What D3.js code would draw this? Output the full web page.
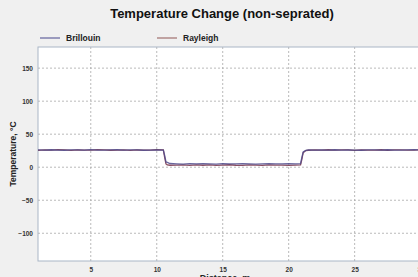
<!DOCTYPE html>
<html>
<head>
<meta charset="utf-8">
<script src="https://cdn.jsdelivr.net/npm/d3@7"></script>
<style>
  body { margin: 0; background: #f0f0f0; overflow: hidden; }
  svg { display: block; font-family: "Liberation Sans", Arial, sans-serif; }
</style>
</head>
<body>
<div id="chart"></div>
<script>
// distance along fibre, m
const distance = [
  1, 1.5, 2, 2.5, 3, 3.5, 4, 4.5, 5, 5.5, 6, 6.5, 7, 7.5, 8, 8.5, 9, 9.5, 10, 10.5,
  10.6, 10.7, 10.8, 11,
  11.5, 12, 12.5, 13, 13.5, 14, 14.5, 15, 15.5, 16, 16.5, 17, 17.5, 18, 18.5, 19, 19.5, 20, 20.5,
  20.9, 21, 21.1, 21.3,
  21.5, 22, 22.5, 23, 23.5, 24, 24.5, 25, 25.5, 26, 26.5, 27, 27.5, 28, 28.5, 29, 29.5, 30, 30.5, 31, 31.5, 32
];
const brillouin = [
  26.2, 25.8, 26.4, 26.0, 25.7, 26.3, 26.1, 25.9, 26.5, 26.0, 25.8, 26.2, 26.4, 25.9, 26.1, 26.3, 25.7, 26.0, 26.2, 25.9,
  18, 8, 7.2, 5.6,
  5.2, 4.8, 5.5, 4.9, 5.3, 5.0, 4.7, 5.4, 5.1, 4.9, 5.3, 5.0, 4.8, 5.2, 5.5, 4.9, 5.1, 5.3, 5.0,
  5.5, 15, 23, 25.5,
  26.1, 25.8, 26.3, 26.0, 26.4, 25.9, 26.2, 26.0, 25.7, 26.3, 26.1, 25.9, 26.4, 26.0, 25.8, 26.2, 26.5, 25.9, 26.1, 26.3, 25.8, 26.0
];
const rayleigh = [
  25.6, 26.3, 25.9, 26.5, 26.1, 25.5, 26.2, 26.0, 25.8, 26.4, 26.1, 25.7, 26.0, 26.3, 25.6, 26.2, 26.0, 25.8, 26.4, 26.1,
  15, 5, 3.5, 3.0,
  3.1, 3.6, 2.8, 3.4, 3.0, 3.5, 2.9, 3.3, 3.7, 3.0, 2.8, 3.4, 3.2, 2.9, 3.5, 3.1, 3.3, 2.8, 3.2,
  3.5, 12, 22, 25.2,
  25.7, 26.2, 25.9, 26.4, 25.8, 26.1, 26.3, 25.6, 26.2, 25.9, 26.0, 26.4, 25.7, 26.1, 26.3, 25.8, 26.0, 26.2, 25.9, 26.4, 25.7, 26.1
];
const xTicks = [5, 10, 15, 20, 25, 30];
const yTicks = [150, 100, 50, 0, -50, -100];
const seriesNames = ["Brillouin", "Rayleigh"];

const W = 418, H = 277;
const margin = { top: 47, right: -29, bottom: 16, left: 38 };
const innerW = W - margin.left - margin.right;
const innerH = H - margin.top - margin.bottom;

const svg = d3.select("#chart").append("svg").attr("width", W).attr("height", H);

const x = d3.scaleLinear().domain([1, 32]).range([0, innerW]);
const y = d3.scaleLinear().domain([-142, 182]).range([innerH, 0]);

svg.append("text").attr("x", 222).attr("y", 18).attr("text-anchor", "middle")
  .style("font-size", "13px").style("font-weight", "bold").attr("fill", "#111")
  .text("Temperature Change (non-seprated)");

// legend
const legendColors = ["#7f7fae", "#b08a88"];
const legendX = [40, 157];
seriesNames.forEach((name, i) => {
  svg.append("line").attr("x1", legendX[i]).attr("x2", legendX[i] + 20)
    .attr("y1", 38).attr("y2", 38).attr("stroke", legendColors[i]).attr("stroke-width", 1.5);
  svg.append("text").attr("x", legendX[i] + 26).attr("y", 41)
    .style("font-size", "8.5px").style("font-weight", "bold").attr("fill", "#222").text(name);
});

const g = svg.append("g").attr("transform", `translate(${margin.left},${margin.top})`);

g.append("rect").attr("width", innerW).attr("height", innerH).attr("fill", "#fff");

// grid
g.selectAll("line.vgrid").data(xTicks).join("line").attr("class", "vgrid")
  .attr("x1", d => x(d)).attr("x2", d => x(d)).attr("y1", 0).attr("y2", innerH)
  .attr("stroke", "#a8a8a8").attr("stroke-width", 0.8).attr("stroke-dasharray", "2,2");
g.selectAll("line.hgrid").data(yTicks).join("line").attr("class", "hgrid")
  .attr("x1", 0).attr("x2", innerW).attr("y1", d => y(d)).attr("y2", d => y(d))
  .attr("stroke", "#a8a8a8").attr("stroke-width", 0.8).attr("stroke-dasharray", "2,2");

// axes
const xAxis = d3.axisBottom(x).tickValues(xTicks).tickSize(0).tickPadding(6);
const yAxis = d3.axisLeft(y).tickValues(yTicks).tickSize(0).tickPadding(5);
const gx = g.append("g").attr("transform", `translate(0,${innerH})`).call(xAxis);
const gy = g.append("g").call(yAxis);
[gx, gy].forEach(a => {
  a.select(".domain").remove();
  a.selectAll("text").style("font-size", "6.5px").style("font-weight", "bold").attr("fill", "#333");
});

g.append("rect").attr("width", innerW).attr("height", innerH)
  .attr("fill", "none").attr("stroke", "#a9b6c6").attr("stroke-width", 1);

// series
const line = d3.line().x((d, i) => x(distance[i])).y(d => y(d));
g.append("path").datum(rayleigh).attr("d", line).attr("fill", "none")
  .attr("stroke", "#8a4f62").attr("stroke-width", 1.3);
g.append("path").datum(brillouin).attr("d", line).attr("fill", "none")
  .attr("stroke", "#4f4a8c").attr("stroke-width", 1.3).attr("stroke-opacity", 0.85);

// axis titles
svg.append("text").attr("transform", "translate(16,154) rotate(-90)").attr("text-anchor", "middle")
  .style("font-size", "8.5px").style("font-weight", "bold").attr("fill", "#222").text("Temperature, °C");
svg.append("text").attr("x", 225).attr("y", 281).attr("text-anchor", "middle")
  .style("font-size", "9px").style("font-weight", "bold").attr("fill", "#222").text("Distance, m");
</script>
</body>
</html>
